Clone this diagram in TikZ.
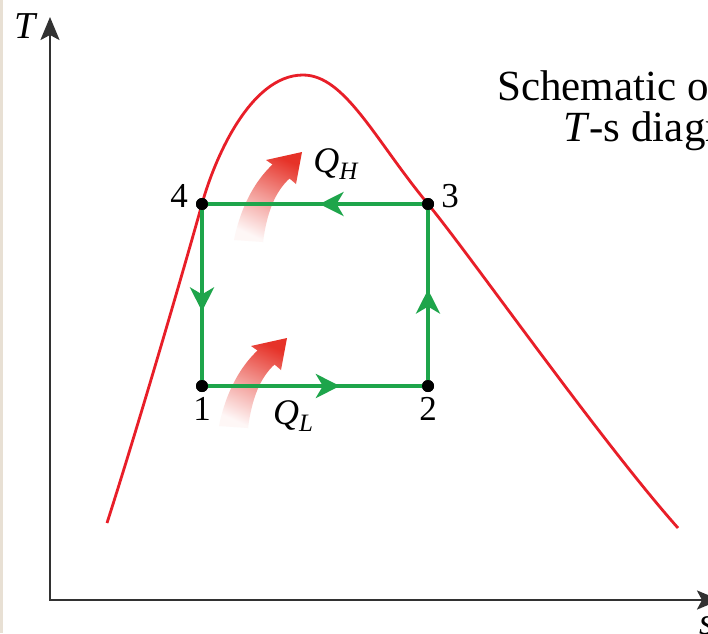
\documentclass[tikz,border=0pt]{standalone}
\usepackage{fontspec}
\setmainfont{Liberation Serif}
\usetikzlibrary{arrows.meta,decorations.markings}
\definecolor{cycgreen}{RGB}{30,165,75}
\definecolor{domered}{RGB}{232,30,40}
\definecolor{axisgray}{RGB}{50,50,50}
\definecolor{heatred}{RGB}{230,50,40}
\definecolor{edgebeige}{RGB}{232,224,212}
\newcommand{\fs}[1]{\fontsize{#1}{#1}\selectfont}
\newcommand{\qlab}[1]{\textit{Q}\raisebox{-0.2em}{\fs{25}\textit{#1}}}
\begin{document}
\begin{tikzpicture}[x=1pt,y=-1pt,
  axisline/.style={draw=axisgray,line width=2.6pt,{Stealth[length=23pt,width=19pt,inset=5pt]}-{Stealth[length=23pt,width=19pt,inset=5pt]}},
  dome/.style={draw=domered,line width=2.8pt},
  dot/.style={circle,fill=black,inner sep=0pt,minimum size=12pt},
  cyc/.style={draw=cycgreen,line width=4pt},
  midarrow/.style={postaction={decorate},decoration={markings,mark=at position #1 with {\arrow{Stealth[length=24pt,width=24pt,inset=7pt,fill=cycgreen]}}}},
  numlab/.style={font=\fs{35},inner sep=0pt},
  qlabel/.style={font=\fs{36},inner sep=0pt},
  heat/.style={shading=axis,top color=heatred,bottom color=heatred!4!white,middle color=heatred!50!white,shading angle=-25},
  txt/.style={font=\fs{43},inner sep=0pt,anchor=base west}
]
\useasboundingbox (0,0) rectangle (708,633);
\clip (0,0) rectangle (708,633);
\fill[white] (0,0) rectangle (708,633);
\fill[edgebeige] (0,0) rectangle (3,633);

% axes
\coordinate (O) at (50,600);
\coordinate (Tend) at (50,17);
\coordinate (Send) at (720,600);
\draw[axisline] (Tend) -- (O) -- (Send);
\node[font=\fs{38}\itshape,inner sep=0pt,anchor=base west] (Tlab) at (14,38) {T};
\node[font=\fs{38}\itshape,inner sep=0pt,anchor=base west] (slab) at (699,634) {s};

% saturation dome
\draw[dome] (107,523) .. controls (140,420) and (185,265) .. (202,204)
  .. controls (214,160) and (250,75) .. (303,75)
  .. controls (345,75) and (375,140) .. (428,204)
  .. controls (470,255) and (600,440) .. (678,528);

% heat arrows
\shade[heat] (234,240) .. controls (241,205) and (256,180) .. (272.5,164.5) -- (266,160) -- (302,152) -- (296,184) -- (289.5,178.5) .. controls (275,192) and (267,212) .. (263,242) -- cycle;
\begin{scope}[shift={(-15,186)}]
\shade[heat] (234,240) .. controls (241,205) and (256,180) .. (272.5,164.5) -- (266,160) -- (302,152) -- (296,184) -- (289.5,178.5) .. controls (275,192) and (267,212) .. (263,242) -- cycle;
\end{scope}

% cycle
\node[dot] (p1) at (202,386) {};
\node[dot] (p2) at (428,386) {};
\node[dot] (p3) at (428,204) {};
\node[dot] (p4) at (202,204) {};
\draw[cyc,midarrow=0.61] (p1.center) -- (p2.center);
\draw[cyc,midarrow=0.53] (p2.center) -- (p3.center);
\draw[cyc,midarrow=0.48] (p3.center) -- (p4.center);
\draw[cyc,midarrow=0.59] (p4.center) -- (p1.center);
\node[dot] at (p1) {};
\node[dot] at (p2) {};
\node[dot] at (p3) {};
\node[dot] at (p4) {};

% labels
\node[numlab] (l4) at (179,196) {4};
\node[numlab] (l3) at (450,196) {3};
\node[numlab] (l1) at (202,409) {1};
\node[numlab] (l2) at (428,409) {2};
\node[qlabel] (qh) at (336,164) {\qlab{H}};
\node[qlabel] (ql) at (293,416) {\qlab{L}};

% caption text
\node[txt] (cap1) at (497,100) {Schematic of a};
\node[txt] (cap2) at (563,141) {\textit{T}-s diagram};
\end{tikzpicture}
\end{document}
